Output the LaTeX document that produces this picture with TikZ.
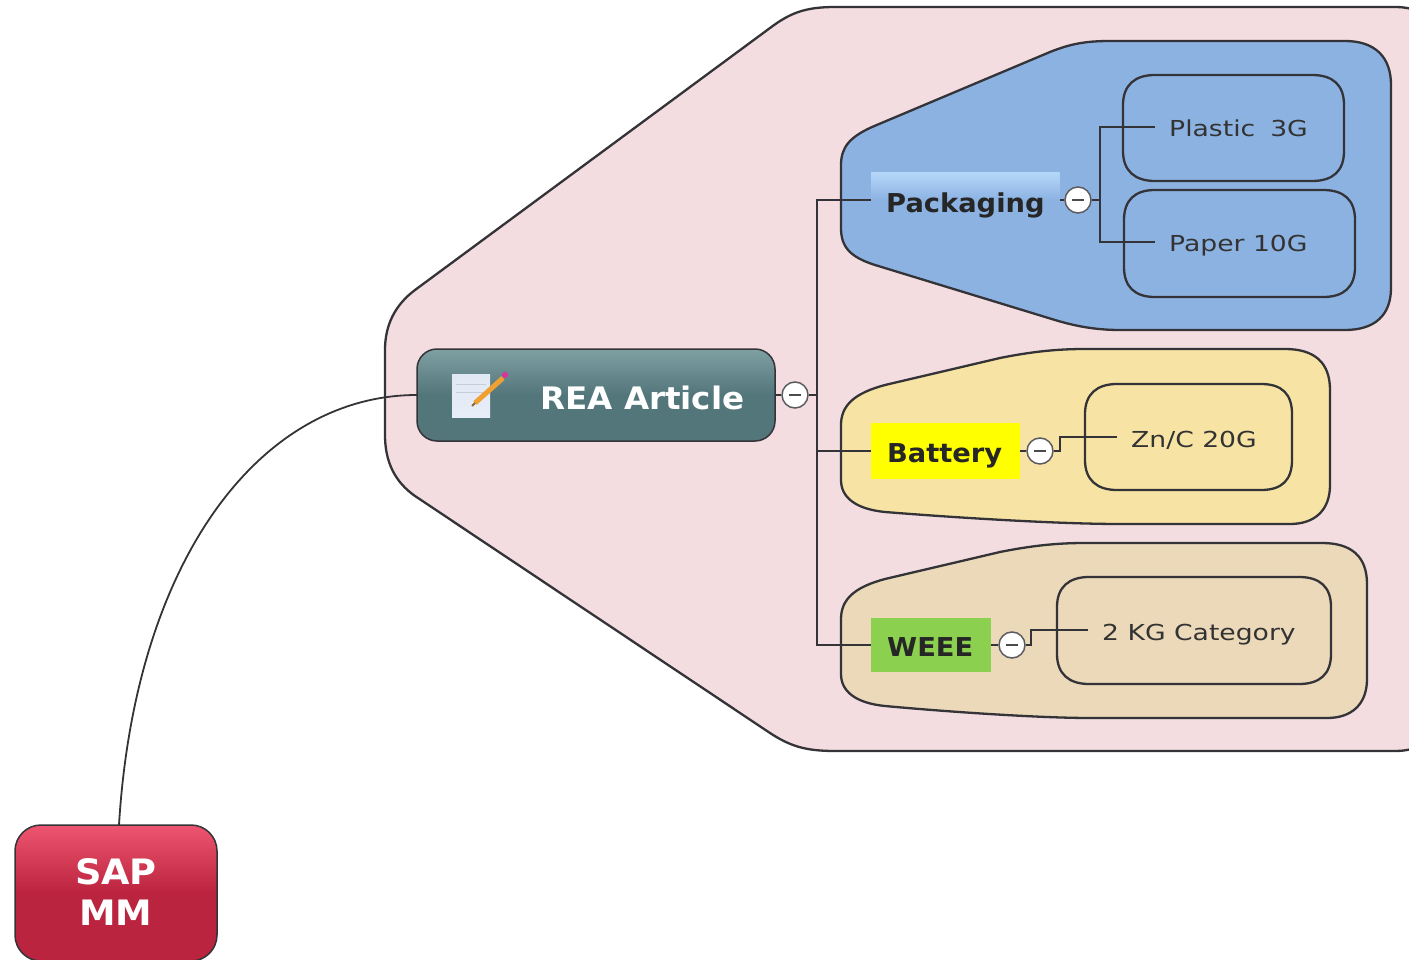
\documentclass[tikz,border=0pt]{standalone}
\usepackage{fontspec}
\setmainfont{DejaVu Sans}
\newfontfamily\leaffont[FakeStretch=1.21]{DejaVu Sans}
\newfontfamily\topicfont[FakeStretch=1.05]{DejaVu Sans}
\usetikzlibrary{positioning,calc}
\definecolor{pinkpanel}{HTML}{F3DDE0}
\definecolor{bluepanel}{HTML}{8CB2E2}
\definecolor{yellowpanel}{HTML}{F7E4A5}
\definecolor{tanpanel}{HTML}{EBD9BA}
\definecolor{linecol}{HTML}{333338}
\definecolor{reaA}{HTML}{53767B}
\definecolor{reaB}{HTML}{7FA0A3}
\definecolor{sapA}{HTML}{BB243E}
\definecolor{sapB}{HTML}{EE5570}
\definecolor{packB}{HTML}{B4D6F8}
\definecolor{weeegreen}{HTML}{8CD050}
\definecolor{brightyellow}{HTML}{FFFF00}
\definecolor{paperA}{HTML}{E0E8F4}
\definecolor{paperB}{HTML}{E8EEF8}
\definecolor{paperline}{HTML}{C5CDD8}
\definecolor{pencil}{HTML}{F0A030}
\definecolor{pencilTip}{HTML}{8A6A30}
\definecolor{eraser}{HTML}{E0309A}
\pgfdeclareverticalshading{reashade}{100bp}{color(0bp)=(reaA);color(25bp)=(reaA);color(50bp)=(reaA);color(75bp)=(reaB);color(100bp)=(reaB)}
\pgfdeclareverticalshading{sapshade}{100bp}{color(0bp)=(sapA);color(25bp)=(sapA);color(50bp)=(sapA);color(75bp)=(sapB);color(100bp)=(sapB)}
\pgfdeclareverticalshading{packshade}{100bp}{color(0bp)=(bluepanel);color(25bp)=(bluepanel);color(50bp)=(bluepanel);color(75bp)=(packB);color(100bp)=(packB)}
\newcommand{\lowtext}[2]{\raisebox{-#1}[0pt][0pt]{#2}}
\tikzset{
  panel/.style={draw=linecol,line width=2.3pt},
  conn/.style={draw=linecol,line width=1.8pt},
  leaf/.style={anchor=west,inner sep=0pt,inner xsep=14pt,minimum height=20pt,font=\leaffont\fontsize{22}{26}\selectfont,text=black!80},
  topic/.style={anchor=west,inner xsep=15pt,inner ysep=0pt,font=\topicfont\bfseries\fontsize{26}{30}\selectfont,text=black!85},
  collapse/.style={circle,draw=linecol!80,line width=1.5pt,fill=white,minimum size=26pt,inner sep=0pt,
    path picture={\draw[line width=2.6pt,draw=black!70] ($(path picture bounding box.center)+(-6pt,0)$) -- ($(path picture bounding box.center)+(6pt,0)$);}},
  mainnode/.style={draw=linecol,line width=1.5pt,outer sep=0pt,inner sep=0pt}
}
\begin{document}
\begin{tikzpicture}[x=1pt,y=-1pt]
\useasboundingbox (0,0) rectangle (1409,960);
\fill[white] (0,0) rectangle (1409,960);
% outer pink panel
\path[panel,fill=pinkpanel] (1415,10) .. controls (1405,7) and (1400,7) .. (1390,7) -- (835,7)
  .. controls (805,7) and (790,13) .. (770,28) -- (415,290)
  .. controls (395,305) and (385,325) .. (385,350) -- (385,435)
  .. controls (385,462) and (395,482) .. (415,496) -- (770,733)
  .. controls (790,746) and (805,751) .. (835,751) -- (1390,751)
  .. controls (1400,751) and (1405,751) .. (1415,748);
% packaging panel
\path[panel,fill=bluepanel] (1110,41) -- (1345,41)
  .. controls (1375,41) and (1391,57) .. (1391,85) -- (1391,288)
  .. controls (1391,315) and (1375,330) .. (1345,330) -- (1120,330)
  .. controls (1095,330) and (1075,326) .. (1055,320) -- (875,265)
  .. controls (850,257) and (841,247) .. (841,228) -- (841,165)
  .. controls (841,147) and (850,137) .. (872,127) -- (1050,52)
  .. controls (1070,44) and (1085,41) .. (1110,41) -- cycle;
\path[panel,fill=bluepanel] (1123,105) .. controls (1123,85) and (1135,75) .. (1155,75) -- (1312,75)
  .. controls (1333,75) and (1344,85) .. (1344,105) -- (1344,151)
  .. controls (1344,171) and (1333,181) .. (1312,181) -- (1155,181)
  .. controls (1135,181) and (1123,171) .. (1123,151) -- cycle;
\path[panel,fill=bluepanel] (1124,220) .. controls (1124,200) and (1135,190) .. (1155,190) -- (1323,190)
  .. controls (1344,190) and (1355,200) .. (1355,220) -- (1355,267)
  .. controls (1355,287) and (1344,297) .. (1323,297) -- (1155,297)
  .. controls (1135,297) and (1124,287) .. (1124,267) -- cycle;
% battery panel
\path[panel,fill=yellowpanel] (1085,349) -- (1285,349)
  .. controls (1315,349) and (1330,363) .. (1330,390) -- (1330,485)
  .. controls (1330,510) and (1315,524) .. (1290,524) -- (1120,524)
  .. controls (1060,524) and (960,518) .. (885,512)
  .. controls (855,509) and (841,497) .. (841,480) -- (841,425)
  .. controls (841,405) and (855,393) .. (885,385) -- (1000,358)
  .. controls (1035,351) and (1060,349) .. (1085,349) -- cycle;
\path[panel,fill=yellowpanel] (1085,414) .. controls (1085,394) and (1097,384) .. (1117,384) -- (1261,384)
  .. controls (1282,384) and (1292,394) .. (1292,414) -- (1292,460)
  .. controls (1292,480) and (1282,490) .. (1261,490) -- (1117,490)
  .. controls (1097,490) and (1085,480) .. (1085,460) -- cycle;
% weee panel
\path[panel,fill=tanpanel] (1085,543) -- (1322,543)
  .. controls (1352,543) and (1367,557) .. (1367,584) -- (1367,679)
  .. controls (1367,704) and (1352,718) .. (1327,718) -- (1090,718)
  .. controls (1040,718) and (950,712) .. (885,706)
  .. controls (855,703) and (841,691) .. (841,674) -- (841,619)
  .. controls (841,599) and (855,587) .. (885,579) -- (1000,552)
  .. controls (1035,545) and (1060,543) .. (1085,543) -- cycle;
\path[panel,fill=tanpanel] (1057,607) .. controls (1057,587) and (1069,577) .. (1089,577) -- (1299,577)
  .. controls (1320,577) and (1331,587) .. (1331,607) -- (1331,654)
  .. controls (1331,674) and (1320,684) .. (1299,684) -- (1089,684)
  .. controls (1069,684) and (1057,674) .. (1057,654) -- cycle;
% main nodes
\node[mainnode,shading=sapshade,minimum width=202pt,minimum height=136pt,anchor=north west,rounded corners=26pt] (sap) at (15,825) {};
\node[text=white,font=\topicfont\bfseries\fontsize{35}{41}\selectfont,align=center] (saplabel) at (116,892) {SAP\\MM};
\node[mainnode,shading=reashade,minimum width=358pt,minimum height=92pt,anchor=north west,rounded corners=20pt] (rea) at (417,349) {};
\node[text=white,font=\topicfont\bfseries\fontsize{31}{36}\selectfont,anchor=west,inner sep=0pt] (realabel) at (540,398) {REA Article};
% icon
\shade[top color=paperA,bottom color=paperB] (452,374) rectangle (490,417);
\draw[paperline,line width=1pt] (456,384) -- (486,384) (456,392) -- (486,392);
\draw[pencil,line width=5pt] (475,403) -- (503,378);
\draw[pencilTip,line width=2pt] (472,406) -- (475,403);
\fill[eraser] (505,375) circle (3pt);
% topics
\node[topic,minimum width=187pt,minimum height=54pt,shading=packshade] (packaging) at (871,200) {\lowtext{13pt}{Packaging}};
\node[topic,minimum width=149pt,minimum height=56pt,fill=brightyellow] (battery) at (871,451) {\lowtext{11pt}{\hspace*{-2pt}Battery}};
\node[topic,minimum width=120pt,minimum height=54pt,fill=weeegreen] (weee) at (871,645) {\lowtext{11pt}{\hspace*{-2pt}WEEE}};
% leaves
\node[leaf] (plastic) at (1155,127) {\lowtext{10pt}{Plastic\hspace{15pt}3G}};
\node[leaf] (paper) at (1155,242) {\lowtext{10pt}{Paper 10G}};
\node[leaf] (znc) at (1117,437) {\lowtext{10pt}{Zn/C 20G}};
\node[leaf] (kg) at (1088,630) {\lowtext{10pt}{2 KG Category}};
% collapse buttons
\node[collapse] (creA) at (795,395) {};
\node[collapse] (cpack) at (1078,200) {};
\node[collapse] (cbat) at (1040,451) {};
\node[collapse] (cwee) at (1012,645) {};
\coordinate (trunk) at (817,395);
\coordinate (packfork) at (1100,200);
\coordinate (sapjoin) at (119,825);
% connectors
\draw[conn] (rea.west) .. controls (260,395) and (135,560) .. (sapjoin);
\draw[conn] (rea.east) -- (creA.west);
\draw[conn] (creA.east) -- (trunk);
\draw[conn] (packaging.west) -| (trunk) |- (weee.west);
\draw[conn] (trunk |- battery.west) -- (battery.west);
\draw[conn] (packaging.east) -- (cpack.west);
\draw[conn] (cpack.east) -- (packfork);
\draw[conn] (plastic.west) -| (packfork) |- (paper.west);
\draw[conn] (battery.east) -- (cbat.west);
\draw[conn] (cbat.east) -- ++(6,0) |- (znc.west);
\draw[conn] (weee.east) -- (cwee.west);
\draw[conn] (cwee.east) -- ++(5,0) |- (kg.west);
\end{tikzpicture}
\end{document}
